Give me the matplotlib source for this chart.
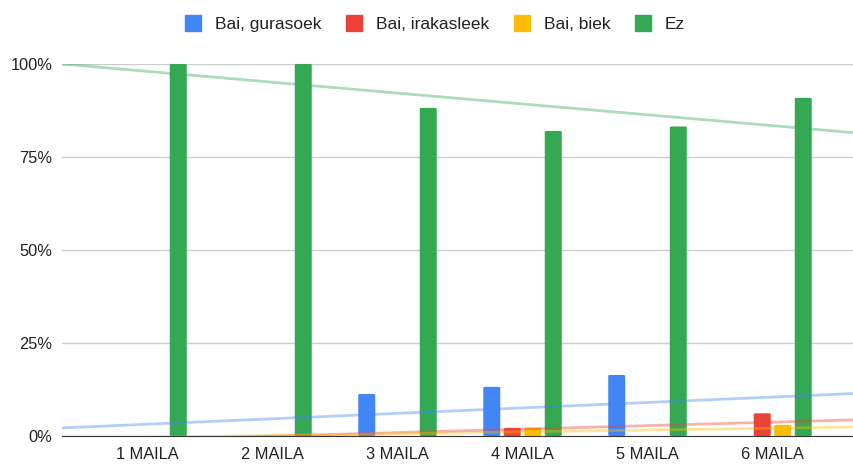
import matplotlib.pyplot as plt
import numpy as np
from matplotlib.patches import FancyBboxPatch
from matplotlib.lines import Line2D

plt.rcParams['font.family'] = ['Liberation Sans', 'DejaVu Sans']

categories = ['1 MAILA', '2 MAILA', '3 MAILA', '4 MAILA', '5 MAILA', '6 MAILA']
series_names = ['Bai, gurasoek', 'Bai, irakasleek', 'Bai, biek', 'Ez']
gurasoek = [0, 0, 11.3, 13.2, 16.4, 0]
irakasleek = [0, 0, 0, 2.2, 0, 6.1]
biek = [0, 0, 0, 2.2, 0, 3.0]
ez = [100, 100, 88.2, 82.0, 83.2, 90.9]
colors = ['#4285F4', '#EA4335', '#FBBC04', '#34A853']

values = [gurasoek, irakasleek, biek, ez]
x = np.arange(1, len(categories) + 1)

fig = plt.figure(figsize=(8.54, 4.65), dpi=100)
ax = fig.add_axes([0.0726, 0.0624, 0.9274, 0.80])

step = 0.164
width = 0.136
for i, (vals, col) in enumerate(zip(values, colors)):
    offs = (i - 1.5) * step
    for xi, v in zip(x, vals):
        if v <= 0:
            continue
        ax.add_patch(FancyBboxPatch((xi + offs - width / 2, 0), width, v,
                                    boxstyle='round,pad=0,rounding_size=0.02',
                                    mutation_aspect=12,
                                    fc=col, ec='none', zorder=2))

# linear trendlines over the whole x range
xmin, xmax = 0.316, 6.652
xx = np.array([xmin, xmax])
for vals, col in zip(values, colors):
    k, b = np.polyfit(x, vals, 1)
    ax.plot(xx, k * xx + b, color=col, alpha=0.4, lw=2, zorder=3,
            solid_capstyle='butt')

ax.set_xlim(xmin, xmax)
ax.set_ylim(0, 100)
ax.set_yticks([0, 25, 50, 75, 100])
ax.set_yticklabels(['0%', '25%', '50%', '75%', '100%'])
ax.set_xticks(x)
ax.set_xticklabels(categories)
ax.grid(axis='y', color='#cccccc', lw=1, zorder=0)
ax.set_axisbelow(True)
for s in ['top', 'right', 'left']:
    ax.spines[s].set_visible(False)
ax.spines['bottom'].set_color('#333333')
ax.spines['bottom'].set_zorder(4)
ax.tick_params(length=0, labelsize=11.8, colors='#222222')
ax.tick_params(axis='x', pad=8)
ax.tick_params(axis='y', pad=7)

handles = [Line2D([], [], marker='s', ls='none', markersize=12,
                  markerfacecolor=c, markeredgecolor=c) for c in colors]
fig.legend(handles, series_names, loc='center', bbox_to_anchor=(0.509, 0.948),
           ncol=4, frameon=False, fontsize=12.5, handlelength=1.0,
           handletextpad=0.75, columnspacing=1.4, labelcolor='#222222')

fig.savefig('out.png', dpi=100)
